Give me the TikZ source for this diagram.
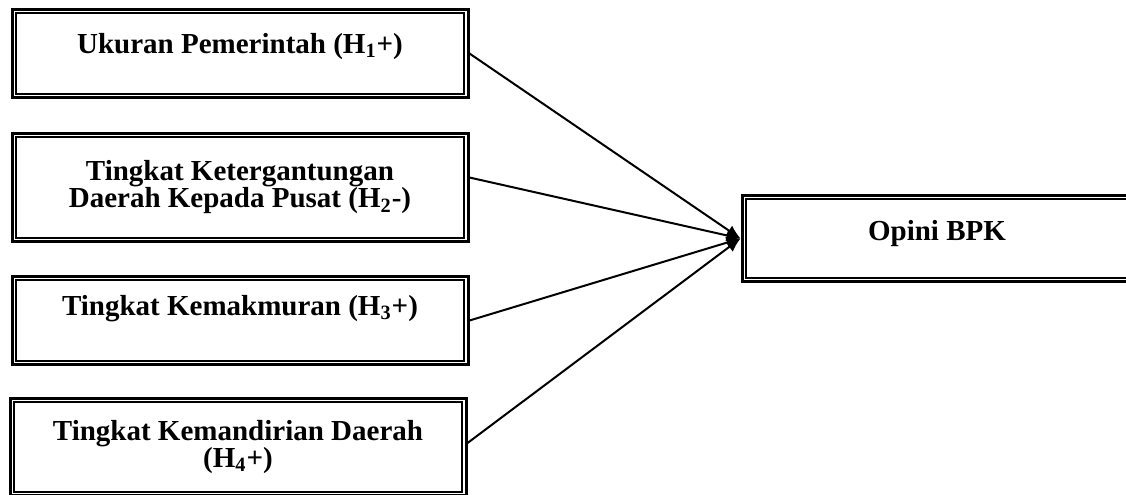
\documentclass[tikz,border=0pt]{standalone}
\usepackage{fontspec}
\setmainfont{Liberation Serif}
\usepackage{tikz}
\usetikzlibrary{arrows.meta,positioning,calc}

\tikzset{
	varbox/.style={draw,line width=1.5pt,align=center,minimum width=228pt,
		font=\bfseries\fontsize{14.5}{13.5}\selectfont},
	inbox/.style={line width=1pt},
	hyp/.style={-{Latex[length=7pt,width=6pt]},line width=1pt}
}

\begin{document}
\begin{tikzpicture}[x=0.5pt,y=-0.5pt]
	\useasboundingbox (0,0) rectangle (1126,494);
	\clip (0,0) rectangle (1126,494);
	% variabel independen
	\node[varbox,minimum height=44pt,text depth=10pt] (ukuran) at (240,53.5) {Ukuran Pemerintah (H\textsubscript{1}+)};
	\node[varbox,minimum height=54pt] (tergantung) at (240,187.5) {Tingkat Ketergantungan\\Daerah Kepada Pusat (H\textsubscript{2}-)};
	\node[varbox,minimum height=44pt,text depth=15pt] (makmur) at (240,320.5) {Tingkat Kemakmuran (H\textsubscript{3}+)};
	\node[varbox,minimum height=48.5pt] (mandiri) at (238,447) {Tingkat Kemandirian Daerah\\(H\textsubscript{4}+)};
	% variabel dependen
	\node[varbox,minimum width=195pt,minimum height=43pt,text depth=8pt] (opini) at (937,238.5) {Opini BPK};
	\foreach \n in {ukuran,tergantung,makmur,mandiri,opini}
		\draw[inbox] ([xshift=2.6pt,yshift=-2.6pt]\n.north west) rectangle ([xshift=-2.6pt,yshift=2.6pt]\n.south east);
	% hipotesis
	\draw[hyp] (ukuran.east) -- (opini.west);
	\draw[hyp] ([yshift=5pt]tergantung.east) -- (opini.west);
	\draw[hyp] (makmur.east) -- (opini.west);
	\draw[hyp] ([yshift=2pt]mandiri.east) -- (opini.west);
\end{tikzpicture}
\end{document}
